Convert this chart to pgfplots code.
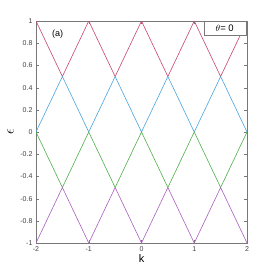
\documentclass[border=0pt]{standalone}
\usepackage{pgfplots}
\pgfplotsset{compat=1.18}
\usepackage{fontspec}
\setmainfont{Liberation Sans}
\definecolor{cred}{RGB}{200,70,110}
\definecolor{cblue}{RGB}{75,165,220}
\definecolor{cgreen}{RGB}{80,175,75}
\definecolor{cpurple}{RGB}{170,95,190}
\definecolor{axgray}{RGB}{120,120,120}
\begin{document}
\begin{tikzpicture}
\begin{axis}[
  scale only axis, width=211pt, height=222pt,
  xmin=-2, xmax=2, ymin=-1, ymax=1,
  xtick={-2,-1,0,1,2},
  ytick={-1,-0.8,-0.6,-0.4,-0.2,0,0.2,0.4,0.6,0.8,1},
  /pgf/number format/assume math mode=true,
  tick label style={font=\fontsize{7}{8}\selectfont, text=black!75},
  yticklabel style={/pgf/number format/fixed},
  tick align=inside, major tick length=3pt,
  axis line style={axgray, line width=0.8pt},
  tick style={axgray},
  xlabel={k}, xlabel style={font=\fontsize{11}{12}\selectfont, yshift=4pt},
  ylabel={$\epsilon$}, ylabel style={font=\fontsize{14}{15}\selectfont, yshift=0pt},
  every axis plot/.append style={line width=0.6pt},
]
\addplot[cred] coordinates {(-2,1)(-1.5,0.5)(-1,1)(-0.5,0.5)(0,1)(0.5,0.5)(1,1)(1.5,0.5)(2,1)};
\addplot[cblue] coordinates {(-2,0)(-1.5,0.5)(-1,0)(-0.5,0.5)(0,0)(0.5,0.5)(1,0)(1.5,0.5)(2,0)};
\addplot[cgreen] coordinates {(-2,0)(-1.5,-0.5)(-1,0)(-0.5,-0.5)(0,0)(0.5,-0.5)(1,0)(1.5,-0.5)(2,0)};
\addplot[cpurple] coordinates {(-2,-1)(-1.5,-0.5)(-1,-1)(-0.5,-0.5)(0,-1)(0.5,-0.5)(1,-1)(1.5,-0.5)(2,-1)};
\node[font=\fontsize{9}{10}\selectfont] at (axis cs:-1.59,0.88) {(a)};
\node[draw=axgray, fill=white, font=\fontsize{9.5}{10}\selectfont, anchor=north east, minimum width=42pt, minimum height=14pt, inner sep=1pt] at (axis cs:1.98,1) {$\theta$= 0};
\end{axis}
\path[use as bounding box] ([xshift=-36pt,yshift=-30pt]current axis.south west) rectangle ([xshift=27pt,yshift=21pt]current axis.north east);
\end{tikzpicture}
\end{document}
